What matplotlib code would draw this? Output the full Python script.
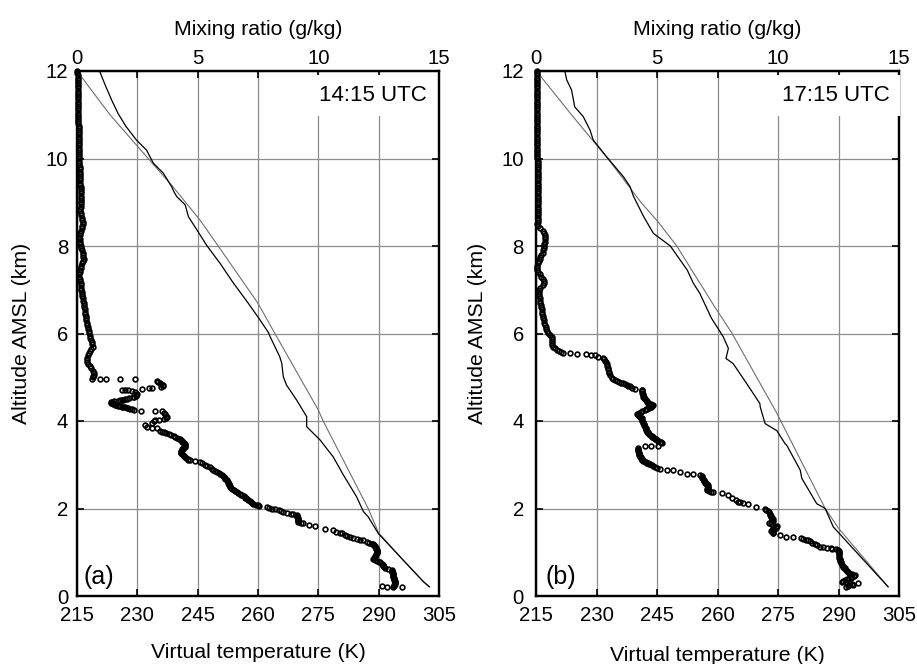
import matplotlib.pyplot as plt
import matplotlib.ticker as ticker

plt.rcParams['font.family'] = ['Liberation Sans', 'DejaVu Sans']

# ---------------- panel (a) : 14:15 UTC ----------------
# measured virtual temperature (K) vs altitude (km)
tv_a_alt = [11.98, 11.68, 11.34, 11.03, 10.73, 10.42, 10.19, 9.89, 9.66, 9.36,
            9.24, 9.13, 8.94, 8.67, 8.37, 8.02, 7.60, 7.15, 6.69, 6.31,
            6.02, 5.93, 5.47, 5.32, 5.01, 4.82, 4.48, 4.10, 3.87, 3.57,
            3.18, 2.77, 2.27, 1.93, 1.81, 1.43, 0.82, 0.33, 0.21]
tv_a = [220.7, 222.0, 223.6, 225.2, 227.2, 229.8, 232.3, 234.0, 236.5, 238.5,
        239.1, 239.8, 241.9, 242.7, 244.8, 247.2, 250.6, 253.9, 257.6, 260.5,
        262.6, 263.0, 265.4, 265.9, 266.3, 267.1, 269.6, 272.1, 272.1, 275.4,
        278.7, 281.2, 284.5, 286.2, 287.4, 289.9, 296.1, 301.1, 302.6]
# reference (adiabatic) profile
ref_a_alt = [12.0, 11.0, 10.0, 9.36, 8.59, 8.0, 6.69, 6.0, 4.25, 4.0,
             2.0, 1.44, 0.82, 0.33, 0.21]
ref_a = [215.0, 223.2, 232.7, 238.8, 245.6, 250.1, 260.0, 264.2, 275.0, 276.2,
         287.4, 290.0, 296.1, 301.1, 302.6]
# mixing ratio (g/kg), dry upper column
q_a_alt = [12.00, 11.95, 11.90, 11.85, 11.80, 11.75, 11.70, 11.65, 11.60, 11.55,
           11.50, 11.45, 11.40, 11.35, 11.30, 11.25, 11.20, 11.15, 11.10, 11.05,
           11.00, 10.95, 10.90, 10.85, 10.80, 10.75, 10.70, 10.65, 10.60, 10.55,
           10.50, 10.45, 10.40, 10.35, 10.30, 10.25, 10.20, 10.15, 10.10, 10.05,
           10.00, 9.95, 9.90, 9.85, 9.80, 9.75, 9.70, 9.65, 9.60, 9.55,
           9.50, 9.45, 9.40, 9.35, 9.30, 9.25, 9.20, 9.15, 9.10, 9.05,
           9.00, 8.95, 8.90, 8.85, 8.80, 8.75, 8.70, 8.65, 8.60, 8.55,
           8.50, 8.45, 8.40, 8.35, 8.30, 8.25, 8.20, 8.15, 8.10, 8.05,
           8.00, 7.95, 7.90, 7.85, 7.80, 7.75, 7.70, 7.65, 7.60, 7.55,
           7.50, 7.45, 7.40, 7.35, 7.30, 7.25, 7.20, 7.15, 7.10, 7.05,
           7.00, 6.95, 6.90, 6.85, 6.80, 6.75, 6.70, 6.65, 6.60, 6.55,
           6.50, 6.45, 6.40, 6.35, 6.30, 6.25, 6.20, 6.15, 6.10, 6.05,
           6.00, 5.95, 5.90, 5.85, 5.80, 5.75, 5.70, 5.65, 5.60, 5.55,
           5.50, 5.45, 5.40, 5.35, 5.30, 5.25, 5.20, 5.15, 5.10, 5.06,
           5.03, 5.00, 4.97]
q_a = [0.02, 0.02, 0.03, 0.03, 0.03, 0.03, 0.03, 0.04, 0.04, 0.04,
       0.04, 0.04, 0.04, 0.05, 0.05, 0.05, 0.05, 0.05, 0.05, 0.06,
       0.06, 0.06, 0.06, 0.06, 0.06, 0.07, 0.07, 0.07, 0.07, 0.07,
       0.07, 0.08, 0.08, 0.08, 0.08, 0.09, 0.09, 0.08, 0.08, 0.09,
       0.10, 0.10, 0.09, 0.10, 0.11, 0.12, 0.12, 0.13, 0.13, 0.12,
       0.11, 0.12, 0.14, 0.15, 0.15, 0.16, 0.17, 0.18, 0.18, 0.17,
       0.16, 0.15, 0.15, 0.14, 0.14, 0.16, 0.18, 0.20, 0.22, 0.24,
       0.25, 0.22, 0.19, 0.15, 0.12, 0.11, 0.10, 0.11, 0.12, 0.13,
       0.15, 0.18, 0.20, 0.23, 0.25, 0.26, 0.27, 0.25, 0.22, 0.18,
       0.15, 0.13, 0.11, 0.10, 0.10, 0.11, 0.13, 0.15, 0.16, 0.17,
       0.18, 0.19, 0.20, 0.22, 0.24, 0.26, 0.27, 0.29, 0.30, 0.32,
       0.33, 0.35, 0.36, 0.37, 0.38, 0.40, 0.42, 0.45, 0.47, 0.49,
       0.50, 0.52, 0.54, 0.58, 0.62, 0.64, 0.65, 0.58, 0.52, 0.48,
       0.44, 0.42, 0.40, 0.42, 0.45, 0.52, 0.58, 0.65, 0.72, 0.70,
       0.68, 0.65, 0.62]
# mixing ratio (g/kg), lower moist layer
q_a_alt2 = [4.95, 4.95, 4.95, 4.95,
            4.92, 4.90, 4.88, 4.85, 4.82, 4.80, 4.78, 4.76, 4.75, 4.74,
            4.72, 4.72, 4.70, 4.68, 4.66, 4.62, 4.58, 4.55, 4.53, 4.50,
            4.48, 4.46, 4.45, 4.44, 4.42, 4.38, 4.36, 4.34, 4.32, 4.30,
            4.28, 4.26, 4.24, 4.22, 4.22, 4.16, 4.09, 4.05, 4.02, 3.96,
            3.91, 3.87, 3.83, 3.83, 3.78, 3.74, 3.70, 3.66, 3.62, 3.58,
            3.55, 3.50, 3.43, 3.38, 3.32, 3.25, 3.17, 3.10, 3.08, 3.06,
            3.00, 2.94, 2.88, 2.84, 2.80, 2.74, 2.65, 2.57, 2.49, 2.42,
            2.34, 2.27, 2.20, 2.11, 2.06, 2.03, 2.00, 1.96, 1.92, 1.88,
            1.85, 1.77, 1.70, 1.66, 1.62, 1.60, 1.54, 1.50, 1.45, 1.40,
            1.35, 1.31, 1.27, 1.20, 1.12, 1.04, 0.95, 0.85, 0.80, 0.74,
            0.63, 0.59, 0.52, 0.44, 0.36, 0.29, 0.21, 0.21, 0.20, 0.22,
            3.52, 3.47, 3.40, 3.35, 3.28, 3.21, 3.13,
            2.70, 2.61, 2.53, 2.45, 2.38, 2.30, 2.24, 2.15,
            1.81, 1.74,
            1.16, 1.08, 1.00, 0.90, 0.77, 0.68, 0.56, 0.48, 0.40, 0.32, 0.25]
q_a2 = [0.95, 1.19, 1.78, 2.40,
        3.30, 3.36, 3.42, 3.48, 3.55, 3.58, 3.50, 3.12, 3.00, 2.68,
        1.85, 2.00, 2.10, 2.28, 2.40, 2.47, 2.45, 2.30, 2.15, 2.00,
        1.85, 1.70, 1.55, 1.44, 1.40, 1.50, 1.62, 1.78, 1.92, 2.06,
        2.20, 2.35, 2.64, 3.23, 3.54, 3.65, 3.72, 3.60, 3.23, 3.10,
        2.82, 2.89, 3.10, 3.30, 3.44, 3.60, 3.80, 4.00, 4.15, 4.28,
        4.34, 4.45, 4.48, 4.40, 4.31, 4.36, 4.48, 4.68, 4.89, 5.10,
        5.30, 5.50, 5.65, 5.80, 5.93, 6.05, 6.20, 6.28, 6.34, 6.50,
        6.75, 6.95, 7.10, 7.31, 7.55, 7.86, 8.10, 8.35, 8.55, 8.85,
        9.10, 9.15, 9.17, 9.38, 9.60, 9.86, 10.28, 10.62, 10.90, 11.10,
        11.31, 11.60, 11.87, 12.21, 12.35, 12.42, 12.40, 12.28, 12.45, 12.63,
        12.76, 13.04, 13.08, 13.11, 13.15, 13.18, 13.11, 12.83, 13.45, 12.65,
        4.40, 4.47, 4.45, 4.36, 4.32, 4.42, 4.58,
        6.12, 6.24, 6.30, 6.42, 6.62, 6.85, 7.02, 7.20,
        9.12, 9.16,
        12.30, 12.40, 12.43, 12.33, 12.55, 12.70, 13.06, 13.10, 13.13, 13.17, 13.15]
# more readings where the sonde samples overlap into a solid band
q_a_alt3 = [3.03, 2.97, 2.91, 2.86, 2.82, 2.77, 2.71, 2.68,
            2.59, 2.55, 2.51, 2.47, 2.40, 2.36, 2.32, 2.28, 2.25, 2.22,
            2.17, 2.13, 2.09, 2.07,
            2.02, 1.98, 1.94, 1.90, 1.87, 1.82, 1.79, 1.72, 1.68,
            1.47, 1.43, 1.38, 1.33, 1.29, 1.24, 1.22,
            1.18, 1.14, 1.10, 1.06, 1.02, 0.98, 0.92, 0.88, 0.83, 0.78,
            0.72, 0.70,
            0.66, 0.61, 0.57, 0.54, 0.50, 0.46, 0.42, 0.38, 0.34, 0.31,
            0.27, 0.23,
            3.57, 3.53, 3.45, 3.41, 3.36, 3.30, 3.27, 3.23, 3.19, 3.15, 3.12,
            3.76, 3.72, 3.68, 3.64, 3.60,
            4.60, 4.56, 4.51, 4.49, 4.47, 4.43, 4.40, 4.37, 4.35, 4.33,
            4.31, 4.29, 4.27,
            4.19, 4.12, 4.07, 4.03, 3.99]
q_a3 = [5.20, 5.40, 5.58, 5.72, 5.87, 6.00, 6.10, 6.15,
        6.26, 6.28, 6.32, 6.38, 6.55, 6.68, 6.80, 6.90, 6.98, 7.05,
        7.15, 7.25, 7.40, 7.48,
        7.95, 8.22, 8.45, 8.70, 8.95, 9.13, 9.14, 9.16, 9.28,
        10.75, 11.00, 11.20, 11.45, 11.72, 12.00, 12.10,
        12.28, 12.33, 12.38, 12.42, 12.43, 12.42, 12.36, 12.30, 12.35, 12.50,
        12.66, 12.68,
        12.72, 12.90, 13.05, 13.07, 13.09, 13.10, 13.12, 13.14, 13.16, 13.17,
        13.16, 13.12,
        4.31, 4.37, 4.47, 4.46, 4.38, 4.31, 4.33, 4.38, 4.45, 4.53, 4.62,
        3.52, 3.70, 3.90, 4.08, 4.22,
        2.46, 2.38, 2.08, 1.92, 1.78, 1.42, 1.44, 1.56, 1.70, 1.85,
        1.99, 2.13, 2.28,
        3.60, 3.70, 3.68, 3.40, 3.17]

# ---------------- panel (b) : 17:15 UTC ----------------
tv_b_alt = [11.98, 11.80, 11.57, 11.18, 10.96, 10.65, 10.42, 10.04, 9.58, 9.36,
            9.13, 8.67, 8.29, 8.0, 7.45, 7.15, 6.92, 6.35, 5.93, 5.66,
            5.43, 5.31, 4.86, 4.40, 4.32, 3.94, 3.78, 3.49, 3.44, 2.88,
            2.69, 2.11, 2.0, 1.58, 0.21]
tv_b = [222.2, 222.6, 223.8, 224.6, 226.7, 228.4, 229.2, 232.5, 236.7, 238.3,
        239.2, 241.7, 244.1, 248.3, 252.5, 254.0, 255.6, 258.5, 261.4, 262.7,
        262.1, 263.9, 267.2, 270.5, 270.6, 271.8, 274.7, 276.7, 277.2, 280.5,
        280.9, 284.6, 286.7, 288.7, 302.3]
ref_b_alt = [12.0, 11.0, 10.0, 9.0, 8.56, 8.0, 6.61, 6.02, 4.18, 2.0,
             1.55, 0.21]
ref_b = [215.1, 223.8, 232.8, 241.0, 245.2, 249.9, 259.3, 263.5, 274.7, 286.7,
         290.0, 302.3]
q_b_alt = [12.00, 11.95, 11.90, 11.85, 11.80, 11.75, 11.70, 11.65, 11.60, 11.55,
           11.50, 11.45, 11.40, 11.35, 11.30, 11.25, 11.20, 11.15, 11.10, 11.05,
           11.00, 10.95, 10.90, 10.85, 10.80, 10.75, 10.70, 10.65, 10.60, 10.55,
           10.50, 10.45, 10.40, 10.35, 10.30, 10.25, 10.20, 10.15, 10.10, 10.05,
           10.00, 9.95, 9.90, 9.85, 9.80, 9.75, 9.70, 9.65, 9.60, 9.55,
           9.50, 9.45, 9.40, 9.35, 9.30, 9.25, 9.20, 9.15, 9.10, 9.05,
           9.00, 8.95, 8.90, 8.85, 8.80, 8.75, 8.70, 8.65, 8.60, 8.55,
           8.50, 8.45, 8.40, 8.35, 8.30, 8.25, 8.20, 8.15, 8.10, 8.05,
           8.00, 7.95, 7.90, 7.85, 7.80, 7.75, 7.70, 7.65, 7.60, 7.55,
           7.50, 7.45, 7.40, 7.35, 7.30, 7.25, 7.20, 7.15, 7.10, 7.05,
           7.00, 6.95, 6.90, 6.85, 6.80, 6.75, 6.70, 6.65, 6.60, 6.55,
           6.50, 6.45, 6.40, 6.35, 6.30, 6.25, 6.20, 6.15, 6.10, 6.05,
           6.00, 5.96, 5.93, 5.88, 5.84, 5.79, 5.74, 5.70, 5.66, 5.63,
           5.60, 5.57, 5.55]
q_b = [0.03, 0.03, 0.03, 0.03, 0.03, 0.03, 0.03, 0.03, 0.03, 0.03,
       0.03, 0.03, 0.03, 0.03, 0.03, 0.03, 0.03, 0.03, 0.03, 0.03,
       0.03, 0.03, 0.03, 0.04, 0.04, 0.04, 0.04, 0.05, 0.05, 0.05,
       0.06, 0.06, 0.06, 0.06, 0.06, 0.06, 0.06, 0.06, 0.06, 0.06,
       0.06, 0.07, 0.07, 0.07, 0.07, 0.07, 0.07, 0.08, 0.08, 0.08,
       0.08, 0.08, 0.09, 0.09, 0.09, 0.09, 0.09, 0.10, 0.10, 0.10,
       0.10, 0.10, 0.10, 0.10, 0.09, 0.09, 0.08, 0.08, 0.07, 0.07,
       0.06, 0.10, 0.15, 0.28, 0.35, 0.37, 0.37, 0.37, 0.36, 0.35,
       0.33, 0.32, 0.30, 0.27, 0.22, 0.18, 0.15, 0.11, 0.08, 0.06,
       0.05, 0.06, 0.10, 0.15, 0.20, 0.28, 0.35, 0.33, 0.28, 0.18,
       0.12, 0.12, 0.12, 0.14, 0.15, 0.17, 0.18, 0.20, 0.21, 0.23,
       0.24, 0.26, 0.28, 0.30, 0.32, 0.35, 0.37, 0.40, 0.42, 0.45,
       0.48, 0.58, 0.65, 0.66, 0.66, 0.65, 0.65, 0.72, 0.80, 0.88,
       0.95, 1.05, 1.13]
q_b_alt2 = [5.55, 5.53, 5.53, 5.51, 5.50, 5.47,
            5.45, 5.38, 5.30, 5.22, 5.13, 5.05, 4.98, 4.94, 4.90, 4.86,
            4.82, 4.79, 4.73, 4.72, 4.64, 4.56, 4.48, 4.40, 4.36, 4.30,
            4.25, 4.21, 4.17, 4.12, 4.06, 3.96, 3.87, 3.80, 3.72, 3.66,
            3.60, 3.54, 3.49, 3.44, 3.43, 3.43, 3.35, 3.28, 3.20, 3.14,
            3.09, 3.05, 3.01, 2.97, 2.93, 2.91, 2.89, 2.87, 2.83, 2.80,
            2.80, 2.76, 2.68, 2.61, 2.55, 2.50, 2.42, 2.37, 2.35, 2.31,
            2.25, 2.19, 2.14, 2.10, 2.04, 1.99, 1.94, 1.88, 1.78, 1.66,
            1.60, 1.55, 1.48, 1.43, 1.40, 1.36, 1.35, 1.33, 1.29, 1.25,
            1.19, 1.13, 1.10, 1.10, 1.05, 0.95, 0.82, 0.72, 0.63, 0.51,
            0.48, 0.40, 0.32, 0.29, 0.29, 0.21, 0.25,
            5.42, 5.34, 5.26, 5.18, 5.09,
            4.68, 4.60, 4.52, 4.44, 4.38, 4.33, 4.28, 4.19, 4.15,
            4.01, 3.92, 3.84, 3.76, 3.69, 3.63, 3.57, 3.52,
            3.31, 3.24, 3.17, 3.11, 3.07, 3.03,
            2.72, 2.64, 2.58, 2.46,
            1.83, 1.72, 1.63, 1.51, 1.46,
            1.00, 0.88, 0.77, 0.67, 0.57, 0.44, 0.36, 0.25]
q_b2 = [1.41, 1.71, 2.07, 2.26, 2.44, 2.58,
        2.77, 2.85, 2.92, 2.98, 3.00, 3.05, 3.15, 3.25, 3.42, 3.60,
        3.75, 3.88, 4.09, 4.37, 4.40, 4.43, 4.55, 4.64, 4.85, 4.68,
        4.50, 4.32, 4.16, 4.25, 4.37, 4.44, 4.50, 4.56, 4.64, 4.78,
        4.92, 5.05, 5.19, 5.05, 4.74, 4.50, 4.22, 4.24, 4.29, 4.36,
        4.43, 4.57, 4.70, 4.85, 5.00, 5.12, 5.40, 5.67, 5.95, 6.23,
        6.50, 6.78, 6.90, 6.98, 7.06, 7.12, 7.05, 7.33, 7.67, 7.95,
        8.08, 8.25, 8.42, 8.76, 9.11, 9.45, 9.58, 9.66, 9.75, 9.62,
        9.95, 9.90, 9.72, 9.80, 10.07, 10.35, 10.62, 10.97, 11.15, 11.32,
        11.52, 11.73, 12.01, 12.21, 12.49, 12.52, 12.56, 12.66, 12.76, 12.97,
        13.18, 12.90, 12.63, 12.97, 13.31, 12.83, 13.10,
        2.80, 2.88, 2.95, 2.99, 3.02,
        4.38, 4.41, 4.48, 4.60, 4.75, 4.76, 4.60, 4.24, 4.20,
        4.40, 4.47, 4.53, 4.60, 4.70, 4.85, 4.98, 5.12,
        4.22, 4.26, 4.32, 4.40, 4.50, 4.63,
        6.85, 6.95, 7.02, 7.10,
        9.70, 9.80, 9.80, 9.80, 9.78,
        12.50, 12.54, 12.60, 12.70, 12.86, 13.05, 12.75, 12.95]
q_b_alt3 = [4.96, 4.92, 4.88, 4.84, 4.80, 4.76,
            4.70, 4.62, 4.54, 4.50, 4.46, 4.42,
            4.34, 4.32, 4.27, 4.23, 4.14, 4.10, 4.08,
            4.03, 3.98, 3.94, 3.90, 3.82, 3.78, 3.74, 3.70, 3.64, 3.62,
            3.58, 3.56, 3.51,
            3.38, 3.33, 3.26, 3.22, 3.18, 3.16, 3.12, 3.10, 3.06, 3.04,
            3.02, 2.99, 2.95,
            2.74, 2.70, 2.66, 2.63, 2.59, 2.57, 2.53, 2.48, 2.44, 2.40, 2.38,
            2.16, 2.12,
            1.96, 1.91, 1.85, 1.80, 1.75, 1.69, 1.64, 1.58, 1.53, 1.50, 1.45,
            1.31, 1.27, 1.22, 1.16, 1.12,
            1.08, 1.07, 1.03, 0.98, 0.92, 0.85, 0.79, 0.75, 0.69, 0.65, 0.60,
            0.55, 0.53, 0.50, 0.46, 0.42, 0.38, 0.34, 0.31, 0.27, 0.23]
q_b3 = [3.20, 3.33, 3.50, 3.68, 3.82, 3.98,
        4.38, 4.41, 4.45, 4.52, 4.58, 4.62,
        4.80, 4.74, 4.55, 4.40, 4.20, 4.28, 4.33,
        4.39, 4.43, 4.45, 4.48, 4.54, 4.58, 4.62, 4.68, 4.80, 4.86,
        4.95, 5.02, 5.15,
        4.20, 4.22, 4.25, 4.27, 4.31, 4.34, 4.38, 4.42, 4.53, 4.60,
        4.66, 4.78, 4.92,
        6.84, 6.88, 6.93, 6.96, 7.00, 7.03, 7.09, 7.11, 7.08, 7.15, 7.25,
        8.35, 8.55,
        9.52, 9.62, 9.68, 9.72, 9.78, 9.72, 9.70, 9.92, 9.85, 9.76, 9.79,
        11.05, 11.25, 11.42, 11.62, 11.85,
        12.25, 12.40, 12.50, 12.51, 12.53, 12.55, 12.58, 12.62, 12.68, 12.73, 12.80,
        12.90, 12.95, 13.05, 13.12, 13.00, 12.85, 12.70, 12.80, 13.05, 12.90]

t_ticks = [215, 230, 245, 260, 275, 290, 305]
q_major = [0, 5, 10, 15]
q_minor = [2.5, 7.5, 12.5]
alt_ticks = [0, 2, 4, 6, 8, 10, 12]


def panel(ax, tv_alt, tv, ref_alt, ref, q_sets, stamp, stamp_x, tag, tag_x,
          ypad, ylab_x, xlab_y):
    ax.plot(ref, ref_alt, color='#6e6e6e', lw=0.8, zorder=2)
    ax.plot(tv, tv_alt, color='black', lw=0.9, zorder=2)
    ax.set_xlim(215, 305)
    ax.set_ylim(0, 12)
    ax.set_xticks(t_ticks)
    ax.set_yticks(alt_ticks)
    ax.grid(True, color='#8c8c8c', lw=0.9)
    ax.tick_params(direction='in', length=5, width=1.2, labelsize=14.7,
                   right=True, top=False)
    ax.tick_params(axis='y', pad=ypad)
    ax.tick_params(axis='x', pad=7)
    ax.set_xlabel('Virtual temperature (K)', fontsize=15.3)
    ax.set_ylabel('Altitude AMSL (km)', fontsize=15.3)
    ax.xaxis.set_label_coords(0.5, xlab_y)
    ax.yaxis.set_label_coords(ylab_x, 0.5)
    for s in ax.spines.values():
        s.set_linewidth(1.6)
    ax.text(tag_x, 0.44, tag, fontsize=18, ha='left', va='center')

    top = ax.twiny()
    for q, q_alt in q_sets:
        top.plot(q, q_alt, 'o', ms=3.4, mfc='none', mec='black', mew=1.2,
                 clip_on=False)
    top.set_xlim(0, 15)
    top.xaxis.set_major_locator(ticker.FixedLocator(q_major))
    top.xaxis.set_minor_locator(ticker.FixedLocator(q_minor))
    top.tick_params(axis='x', which='both', direction='in', length=5,
                    width=1.2, labelsize=14.7, pad=2.5)
    top.set_xlabel('Mixing ratio (g/kg)', fontsize=15.3)
    top.xaxis.set_label_coords(0.5, 1.068)
    for s in top.spines.values():
        s.set_linewidth(1.6)
    top.text(stamp_x, 11.43, stamp, fontsize=16, ha='right', va='center',
             transform=ax.transData, zorder=5,
             bbox=dict(boxstyle='square,pad=0.45', fc='white', ec='none'))


fig = plt.figure(figsize=(9.17, 6.64), dpi=100)
ax_a = fig.add_axes([77 / 917, 68 / 664, 362 / 917, 525 / 664])
ax_b = fig.add_axes([536 / 917, 68 / 664, 363 / 917, 525 / 664])

panel(ax_a, tv_a_alt, tv_a, ref_a_alt, ref_a,
      [(q_a, q_a_alt), (q_a2, q_a_alt2), (q_a3, q_a_alt3)],
      '14:15 UTC', 302.0, '(a)', 216.6, 6.3, -0.126, -0.090)
panel(ax_b, tv_b_alt, tv_b, ref_b_alt, ref_b,
      [(q_b, q_b_alt), (q_b2, q_b_alt2), (q_b3, q_b_alt3)],
      '17:15 UTC', 302.7, '(b)', 217.4, 8.8, -0.136, -0.095)

fig.savefig('out.png', dpi=100)
